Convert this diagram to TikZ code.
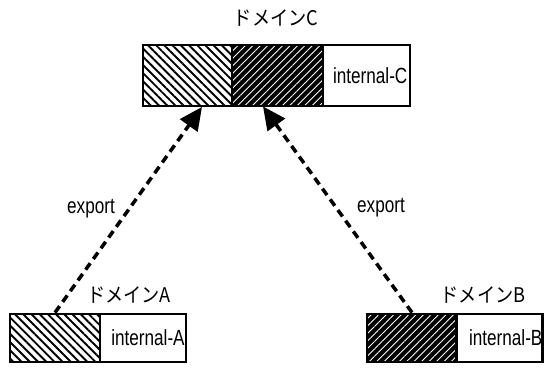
\documentclass[tikz,border=0pt]{standalone}
\usepackage{fontspec}
\setmainfont{Liberation Sans}[FakeStretch=0.78]
\newfontfamily\jfont{Noto Sans CJK JP}[FakeStretch=0.9]
\usetikzlibrary{patterns.meta,arrows.meta}

\tikzset{
	cell/.style={draw, line width=1.6pt, inner sep=0pt, font=\fontsize{12.5}{14}\selectfont},
	lighthatch/.style={cell, pattern={Lines[angle=-45, distance=3.3pt, line width=1.1pt]}},
	darkhatch/.style={cell, preaction={fill=black}, pattern={Lines[angle=45, distance=3pt, line width=0.5pt]}, pattern color=white},
	plain/.style={cell, fill=white},
	domlabel/.style={font=\jfont\fontsize{11.5}{13}\selectfont},
	export/.style={-{Triangle[length=13pt, width=12pt]}, line width=2pt, dash pattern=on 4.5pt off 3pt},
}

\begin{document}
\begin{tikzpicture}
				
				\useasboundingbox (0,0) rectangle (10.9,7.46);
				
				\node[lighthatch, minimum width=1.78cm, minimum height=1.22cm] (CA) at (3.75,5.95) {};
				\node[darkhatch, minimum width=1.82cm, minimum height=1.22cm] (CB) at (5.55,5.95) {};
				\node[plain, minimum width=1.74cm, minimum height=1.22cm] (CInt) at (7.33,5.95) {\hspace{0.15cm}internal-C};
				\node[domlabel] (CLabel) at (5.52,7.10) {ドメインC};
				
				\node[lighthatch, minimum width=1.8cm, minimum height=0.96cm] (AExp) at (1.1,0.7) {};
				\node[plain, minimum width=1.72cm, minimum height=0.96cm] (AInt) at (2.86,0.7) {\hspace{0.2cm}internal-A};
				\node[domlabel] (ALabel) at (2.58,1.56) {ドメインA};
				
				\node[darkhatch, minimum width=1.8cm, minimum height=0.96cm] (BExp) at (8.24,0.7) {};
				\node[plain, minimum width=1.7cm, minimum height=0.96cm] (BInt) at (9.99,0.7) {\hspace{0.25cm}internal-B};
				\node[domlabel] (BLabel) at (9.66,1.56) {ドメインB};
				
				\draw[export] (AExp.north) -- ([xshift=0.29cm]CA.south);
				\draw[export] (BExp.north) -- ([xshift=-0.29cm]CB.south);
				
				\node[font=\fontsize{12.5}{14}\selectfont] (AExport) at (1.82,3.28) {export};
				\node[font=\fontsize{12.5}{14}\selectfont] (BExport) at (7.62,3.30) {export};
				
			\end{tikzpicture}
\end{document}
